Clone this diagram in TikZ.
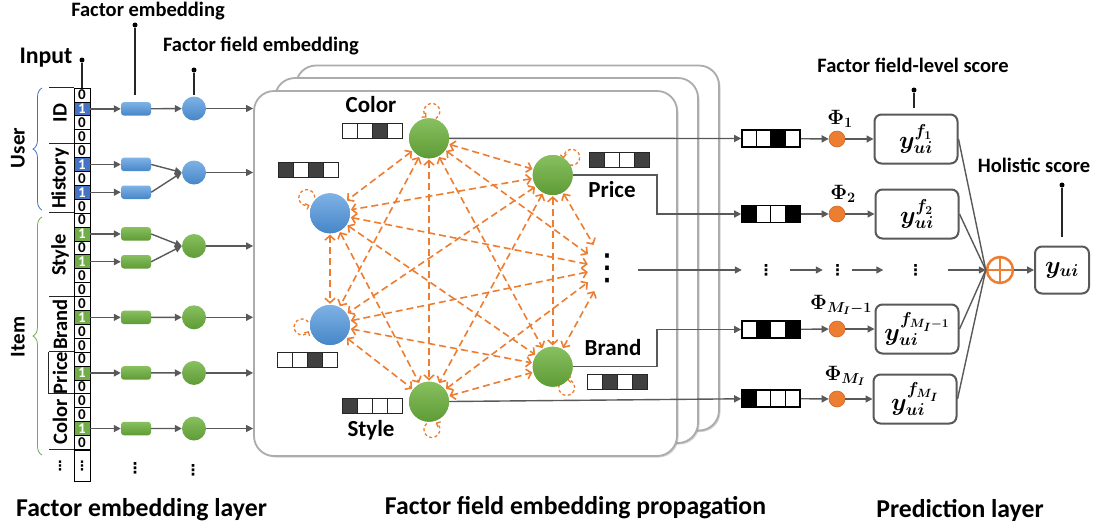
\documentclass[tikz,border=0pt]{standalone}
\usepackage[no-math]{fontspec}
\setmainfont{Carlito}
\newfontfamily\symfont{DejaVu Sans}
\usetikzlibrary{arrows.meta,calc,decorations.pathreplacing,shadows}

\definecolor{ora}{HTML}{ED7D31}
\definecolor{lin}{HTML}{595959}
\definecolor{bitB}{HTML}{4472C4}
\definecolor{bitG}{HTML}{70AD47}
\definecolor{bluT}{HTML}{7FB2E5}
\definecolor{bluB}{HTML}{4686C8}
\definecolor{grnT}{HTML}{88C060}
\definecolor{grnB}{HTML}{5E9B35}
\definecolor{gdark}{HTML}{404040}

% vertical ellipsis at a given size
\newcommand\vdotsk[1]{{\symfont\bfseries\fontsize{#1}{#1}\selectfont ⋮}}
\newcommand\vdotsl[1]{{\symfont\fontsize{#1}{#1}\selectfont ⋮}}

% a four-cell vector: #1 kind (g/o), #2 name, #3 position, #4-#7 cell fills, #8 cell width
\newcommand\cellbar[8]{%
  \node[#1bar, minimum width=4*#8] (#2) at #3 {};
  \foreach \c [count=\k from 0] in {#4,#5,#6,#7}
    \node[#1cell, minimum width=#8, fill=\c, anchor=west] at ([xshift=\k*#8]#2.west) {};
  \node[#1bar, minimum width=4*#8, fill=none] at (#2) {};
}

% dashed self loop: #1 node, #2 direction, #3 distance of loop centre
\newcommand\selfloop[3]{%
  \draw[loopline] ($(#1.center)+(#2:#3)+(#2+215:8pt)$)
    arc[start angle=#2+215, end angle=#2+505, radius=8pt];
}

\begin{document}
\begin{tikzpicture}[x=1pt,y=-1pt,
  lbl/.style={font=\bfseries\fontsize{20.5}{24}\selectfont, inner sep=0},
  biglbl/.style={font=\bfseries\fontsize{25.7}{30}\selectfont, inner sep=0},
  grp/.style={font=\bfseries\fontsize{20.5}{24}\selectfont, rotate=90, inner sep=0},
  nlbl/.style={font=\bfseries\fontsize{23}{26}\selectfont, inner sep=0},
  conn/.style={draw=lin, line width=1.4pt, -{Triangle[length=7pt,width=7pt]}},
  plain/.style={draw=lin, line width=1.4pt},
  pinline/.style={draw=black!85, line width=1.1pt},
  pindot/.style={circle, fill=black, inner sep=0, minimum size=5pt},
  bit/.style={draw=black, line width=0.7pt, minimum width=16pt, minimum height=13.9pt,
              inner sep=0, font=\bfseries\fontsize{15}{15}\selectfont},
  embB/.style={rounded corners=3pt, minimum width=30pt, minimum height=13.5pt, inner sep=0,
               top color=bluT, bottom color=bluB},
  embG/.style={rounded corners=3pt, minimum width=30pt, minimum height=13.5pt, inner sep=0,
               top color=grnT, bottom color=grnB},
  fldB/.style={circle, minimum size=24pt, inner sep=0, top color=bluT, bottom color=bluB},
  fldG/.style={circle, minimum size=24pt, inner sep=0, top color=grnT, bottom color=grnB},
  layerbox/.style={draw=gray!65, line width=1.8pt, fill=white, rounded corners=20pt,
                   minimum width=423pt, minimum height=365pt,
                   drop shadow={shadow xshift=1.5pt, shadow yshift=-1.5pt, opacity=0.35}},
  gB/.style={circle, minimum size=40pt, inner sep=0, top color=bluT, bottom color=bluB},
  gG/.style={circle, minimum size=40pt, inner sep=0, top color=grnT, bottom color=grnB},
  prop/.style={draw=ora, line width=1.6pt, dash pattern=on 7pt off 4pt,
               {Straight Barb[length=4.5pt,width=10pt]}-{Straight Barb[length=4.5pt,width=10pt]},
               shorten <=1pt, shorten >=1pt},
  loopline/.style={draw=ora, line width=1.3pt, dash pattern=on 3pt off 2.5pt,
                   -{Straight Barb[length=3pt,width=6pt]}},
  gbar/.style={draw=black!85, line width=0.9pt, minimum height=15pt, inner sep=0},
  gcell/.style={draw=black!85, line width=0.6pt, minimum height=15pt, inner sep=0},
  obar/.style={draw=black, line width=1.6pt, minimum height=17pt, inner sep=0},
  ocell/.style={draw=black, line width=1pt, minimum height=17pt, inner sep=0},
  phi/.style={circle, fill=ora, draw=ora!85!black, line width=0.6pt, minimum size=16pt, inner sep=0},
  philbl/.style={font=\fontsize{21}{23}\selectfont\boldmath, inner sep=0},
  ybox/.style={draw=lin, line width=2pt, rounded corners=7pt, minimum width=83pt,
               minimum height=49pt, fill=white, font=\fontsize{25}{27}\selectfont\boldmath},
  dots/.style={inner sep=0},
]
\useasboundingbox (0,0) rectangle (1097,531);
\fill[white] (0,0) rectangle (1097,531);

% ---------------- stacked propagation layers ----------------
\node[layerbox] (back) at (507.5,248) {};
\node[layerbox] (mid) at (486.5,260.5) {};
\node[layerbox] (front) at (465.5,273.5) {};

% ---------------- input one-hot column ----------------
\foreach \d/\f/\t [count=\i from 0] in {
  0/white/black, 1/bitB/white, 0/white/black, 0/white/black,
  0/white/black, 1/bitB/white, 0/white/black, 1/bitB/white, 0/white/black,
  0/white/black, 1/bitG/white, 0/white/black, 1/bitG/white, 0/white/black, 0/white/black,
  0/white/black, 1/bitG/white, 0/white/black, 0/white/black,
  0/white/black, 1/bitG/white, 0/white/black,
  0/white/black, 0/white/black, 1/bitG/white, 0/white/black}
  \node[bit, fill=\f, text=\t] (b\i) at (82, 88+\i*13.9+6.95) {\d};
\node[bit, minimum height=31pt, anchor=north] (bdots) at (b25.south) {\vdotsk{13}};

% field separators beside the column
\foreach \j in {0,4,9,15,19,22}
  \draw[black!85, line width=1pt] (b\j.north west) -- ++(-25,0);
\draw[black!85, line width=1pt] (b25.south west) -- ++(-25,0);
\draw[black!85, line width=1pt] ([xshift=-25pt]b19.north west) -- ([xshift=-25pt]b21.south west);

% field names
\node[grp] at (60,113) {ID};
\node[grp] at (60,178.5) {History};
\node[grp] at (60,255) {Style};
\node[grp] at (60,324.5) {Brand};
\node[grp] at (60,373) {Price};
\node[grp] at (60,421.5) {Color};
\node[dots] at (60,466) {\vdotsk{13}};

% user / item braces
\draw[bitB, line width=0.8pt, decorate, decoration={brace, amplitude=9pt}] (42,210) -- (42,88);
\draw[bitG, line width=0.8pt, decorate, decoration={brace, amplitude=9pt}] (42,455) -- (42,217);
\node[grp, font=\bfseries\fontsize{21}{24}\selectfont] at (18,148) {User};
\node[grp, font=\bfseries\fontsize{21}{24}\selectfont] at (18,337) {Item};

% factor embeddings
\node[embB] (eID) at ([xshift=54pt]b1.center) {};
\node[embB] (eH1) at ([xshift=54pt]b5.center) {};
\node[embB] (eH2) at ([xshift=54pt]b7.center) {};
\node[embG] (eS1) at ([xshift=54pt]b10.center) {};
\node[embG] (eS2) at ([xshift=54pt]b12.center) {};
\node[embG] (eB) at ([xshift=54pt]b16.center) {};
\node[embG] (eP) at ([xshift=54pt]b20.center) {};
\node[embG] (eC) at ([xshift=54pt]b24.center) {};
\node[dots] at (135,468) {\vdotsk{15}};

% factor field embeddings
\node[fldB] (fID) at (194,108.5) {};
\node[fldB] (fH) at (194,172.5) {};
\node[fldG] (fS) at (194,246) {};
\node[fldG] (fB) at (194,317.3) {};
\node[fldG] (fP) at (194,372.9) {};
\node[fldG] (fC) at (194,428.5) {};
\node[dots] at (193,470) {\vdotsk{15}};

\foreach \b/\e in {b1/eID, b5/eH1, b7/eH2, b10/eS1, b12/eS2, b16/eB, b20/eP, b24/eC}
  \draw[conn] (\b.east) -- (\e.west);
\draw[conn] (eID) -- (fID);
\draw[conn] (eH1.east) -- (fH.west);
\draw[conn] (eH2.east) -- (fH.west);
\draw[conn] (eS1.east) -- (fS.west);
\draw[conn] (eS2.east) -- (fS.west);
\draw[conn] (eB) -- (fB);
\draw[conn] (eP) -- (fP);
\draw[conn] (eC) -- (fC);
\foreach \f in {fID, fH, fS, fB, fP, fC}
  \draw[conn] (\f) -- (\f -| front.west);

% ---------------- field graph ----------------
\node[gG] (C) at (429,138.3) {};
\node[gG] (P) at (552.7,175) {};
\node[gB] (B1) at (330,213.3) {};
\node[gB] (B2) at (330,325) {};
\node[gG] (S) at (429,401.7) {};
\node[gG] (Br) at (552.7,366.7) {};
\node[dots, minimum width=14pt, minimum height=44pt] (D) at (607,268) {\vdotsl{36}};

\foreach \a/\b in {C/P, C/B1, C/B2, C/S, C/Br, C/D, P/B1, P/B2, P/S, P/Br, P/D,
                   B1/B2, B1/S, B1/Br, B1/D, B2/S, B2/Br, B2/D, S/Br, S/D, Br/D}
  \draw[prop] (\a) -- (\b);

\selfloop{C}{84}{27pt}
\selfloop{P}{43}{26pt}
\selfloop{B1}{146}{28pt}
\selfloop{B2}{184}{28pt}
\selfloop{S}{276}{28pt}
\selfloop{Br}{304}{25pt}

% redraw graph nodes above the edges
\node[gG] at (C) {};
\node[gG] at (P) {};
\node[gB] at (B1) {};
\node[gB] at (B2) {};
\node[gG] at (S) {};
\node[gG] at (Br) {};

\node[nlbl] at (371,105) {Color};
\node[nlbl] at (612,190) {Price};
\node[nlbl] at (613,348) {Brand};
\node[nlbl] at (371,430) {Style};

% field embedding vectors
\cellbar{g}{vC}{(372.5,130.5)}{white}{white}{gdark}{white}{15pt}
\cellbar{g}{vB1}{(308.5,169.5)}{gdark}{white}{gdark}{white}{15pt}
\cellbar{g}{vP}{(619.5,160)}{gdark}{white}{white}{gdark}{15pt}
\cellbar{g}{vB2}{(307,359.5)}{white}{white}{gdark}{white}{15pt}
\cellbar{g}{vBr}{(617.5,382)}{white}{gdark}{white}{gdark}{15pt}
\cellbar{g}{vS}{(372,405.5)}{gdark}{white}{white}{white}{15pt}

% ---------------- prediction layer ----------------
\cellbar{o}{o1}{(771,138.5)}{white}{white}{black}{white}{14.5pt}
\cellbar{o}{o2}{(771,214)}{black}{white}{white}{black}{14.5pt}
\cellbar{o}{o4}{(771,329.5)}{white}{black}{white}{black}{14.5pt}
\cellbar{o}{o5}{(771,398.5)}{black}{white}{white}{white}{14.5pt}

\draw[conn] (C) -- (o1);
\draw[conn] (P.east) -- ++(84,0) |- (o2.west);
\draw[conn] (Br.east) -- ++(84,0) |- (o4.west);
\draw[conn] (S) -- (o5);

\coordinate (dout) at (638,270);
\node[dots, minimum width=48pt] (m1) at (766,270) {\vdotsk{15}};
\node[dots, minimum width=29pt] (m2) at (837.5,270) {\vdotsk{15}};
\node[dots, minimum width=64pt] (m3) at (915.5,270) {\vdotsk{15}};
\draw[conn] (dout) -- (m1);
\draw[conn] (m1) -- (m2);
\draw[conn] (m2) -- (m3);

\node[phi] (p1) at (837,139) {};
\node[phi] (p2) at (837,214) {};
\node[phi] (p4) at (837,329) {};
\node[phi] (p5) at (837,399) {};
\node[philbl] at (840,119) {$\Phi_1$};
\node[philbl] at (843,194) {$\Phi_2$};
\node[philbl] at (841,305) {$\Phi_{M_I-1}$};
\node[philbl] at (845,376) {$\Phi_{M_I}$};

\node[ybox] (y1) at (916,139) {$y_{ui}^{f_1}$};
\node[ybox] (y2) at (917,214) {$y_{ui}^{f_2}$};
\node[ybox] (y4) at (917,329) {$y_{ui}^{f_{M_I-1}}$};
\node[ybox] (y5) at (915,399) {$y_{ui}^{f_{M_I}}$};

\foreach \i in {1,2,4,5} {
  \draw[conn] (o\i) -- (p\i);
  \draw[conn] (p\i) -- (y\i);
}

\node[circle, draw=ora, line width=2.5pt, minimum size=26pt, inner sep=0,
      path picture={\draw[ora, line width=2.5pt]
        (path picture bounding box.north) -- (path picture bounding box.south)
        (path picture bounding box.west) -- (path picture bounding box.east);}]
  (sum) at (1000,270) {};
\foreach \i in {1,2,4,5}
  \draw[plain] (y\i.east) -- (sum.west);
\draw[conn] (m3) -- (sum);

\node[ybox, minimum width=54pt, minimum height=47pt] (yui) at (1062,270) {$y_{ui}$};
\draw[conn] (sum) -- (yui);

% ---------------- callouts ----------------
\node[lbl, font=\bfseries\fontsize{23.8}{26}\selectfont] at (46,58) {Input};
\node[pindot] (pinIn) at (82,60) {};
\draw[pinline] (pinIn) -- (b0.north);

\node[lbl] at (148,11) {Factor embedding};
\node[pindot] (pinFE) at (135,25) {};
\draw[pinline, shorten >=7pt] (pinFE) -- (pinFE |- eID.north);

\node[lbl] at (261,46) {Factor field embedding};
\node[pindot] (pinFF) at (194,70) {};
\draw[pinline, shorten >=1pt] (pinFF) -- (fID.north);

\node[lbl] at (913,65) {Factor field-level score};
\node[pindot] (pinFS) at (914,90) {};
\draw[pinline, shorten >=6pt] (pinFS) -- (pinFS |- y1.north);

\node[lbl] at (1034,165) {Holistic score};
\node[pindot] (pinHS) at (1062,185) {};
\draw[pinline, shorten >=9pt] (pinHS) -- (yui.north);

% ---------------- layer titles ----------------
\node[biglbl] at (141.5,510) {Factor embedding layer};
\node[biglbl] at (575.5,508) {Factor field embedding propagation};
\node[biglbl] at (960,510) {Prediction layer};
\end{tikzpicture}
\end{document}
